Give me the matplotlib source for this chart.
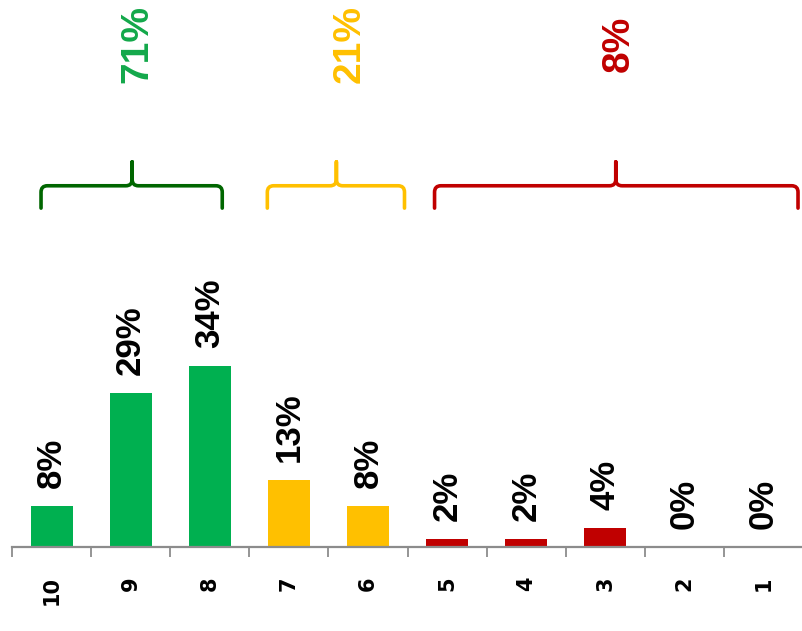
import matplotlib
matplotlib.use("Agg")
import matplotlib.pyplot as plt
from matplotlib.path import Path
from matplotlib.patches import PathPatch

# ---- data ----
categories = ["10", "9", "8", "7", "6", "5", "4", "3", "2", "1"]
values = [7.7, 28.9, 34.0, 12.6, 7.7, 1.5, 1.5, 3.6, 0, 0]
value_labels = ["8%", "29%", "34%", "13%", "8%", "2%", "2%", "4%", "0%", "0%"]
group_labels = ["71%", "21%", "8%"]
group_sizes = [3, 2, 5]

# ---- styles ----
GREEN, YELLOW, RED = "#00B050", "#FFC000", "#C00000"
bar_group_colors = [GREEN, YELLOW, RED]
brace_colors = ["#006600", "#FFC000", "#C00000"]
text_colors = ["#13A84A", "#FFC000", "#C00000"]
bar_colors = []
for c, n in zip(bar_group_colors, group_sizes):
    bar_colors += [c] * n

LABEL_FONT = ["Liberation Sans Narrow", "Liberation Sans", "DejaVu Sans"]

fig = plt.figure(figsize=(8.03, 6.31), dpi=100)
ax = fig.add_axes([12 / 803, 84 / 631, 791 / 803, 547 / 631])
px_per_unit = 5.32
ax.set_xlim(-0.5, len(categories) - 0.5)
ax.set_ylim(0, 547 / px_per_unit)

x = list(range(len(categories)))
ax.bar(x, values, width=0.53, color=bar_colors, zorder=2)

for xi, v, lab in zip(x, values, value_labels):
    ax.annotate(lab, (xi, v), xytext=(0, 13), textcoords="offset points",
                rotation=90, ha="center", va="bottom", fontsize=25,
                fontweight="bold", family=LABEL_FONT, color="black",
                annotation_clip=False)

# axes styling
for s in ["top", "left", "right"]:
    ax.spines[s].set_visible(False)
ax.spines["bottom"].set_color("#8C8C8C")
ax.spines["bottom"].set_linewidth(1.6)
ax.set_yticks([])
ax.set_xticks(x)
ax.set_xticklabels(categories, rotation=90, fontsize=15, fontweight="bold",
                   family="DejaVu Sans")
ax.tick_params(axis="x", which="major", length=0, pad=21)
ax.set_xticks([i - 0.5 for i in range(len(categories) + 1)], minor=True)
ax.tick_params(axis="x", which="minor", length=7.5, width=1.3, color="#8C8C8C",
               direction="out")

# braces (layout positions in data coordinates)
brace_spans = [(-0.133, 2.158, 1.019), (2.728, 4.462, 3.601), (4.842, 9.437, 7.133)]
y_end, y_mid, y_tip = 63.7, 67.9, 72.4
rx, ry = 0.08, 1.2


def brace(x0, x1, xt, color):
    verts = [
        (x0, y_end), (x0, y_mid - ry),
        (x0, y_mid), (x0 + rx, y_mid),
        (xt - rx, y_mid),
        (xt, y_mid), (xt, y_mid + ry),
        (xt, y_tip),
        (xt, y_mid + ry),
        (xt, y_mid), (xt + rx, y_mid),
        (x1 - rx, y_mid),
        (x1, y_mid), (x1, y_mid - ry),
        (x1, y_end),
    ]
    codes = [Path.MOVETO, Path.LINETO,
             Path.CURVE3, Path.CURVE3,
             Path.LINETO,
             Path.CURVE3, Path.CURVE3,
             Path.LINETO,
             Path.LINETO,
             Path.CURVE3, Path.CURVE3,
             Path.LINETO,
             Path.CURVE3, Path.CURVE3,
             Path.LINETO]
    p = PathPatch(Path(verts, codes), fill=False, edgecolor=color, lw=2.6,
                  capstyle="round", joinstyle="round", clip_on=False)
    ax.add_patch(p)


for (x0, x1, xt), c in zip(brace_spans, brace_colors):
    brace(x0, x1, xt, c)

group_text_x = [1.089, 3.766, 7.165]
group_text_y = 94.5
for gx, lab, c in zip(group_text_x, group_labels, text_colors):
    ax.text(gx, group_text_y, lab, rotation=90, ha="center", va="center",
            fontsize=28, fontweight="bold", family=LABEL_FONT, color=c,
            clip_on=False)

fig.savefig("out.png", dpi=100)
